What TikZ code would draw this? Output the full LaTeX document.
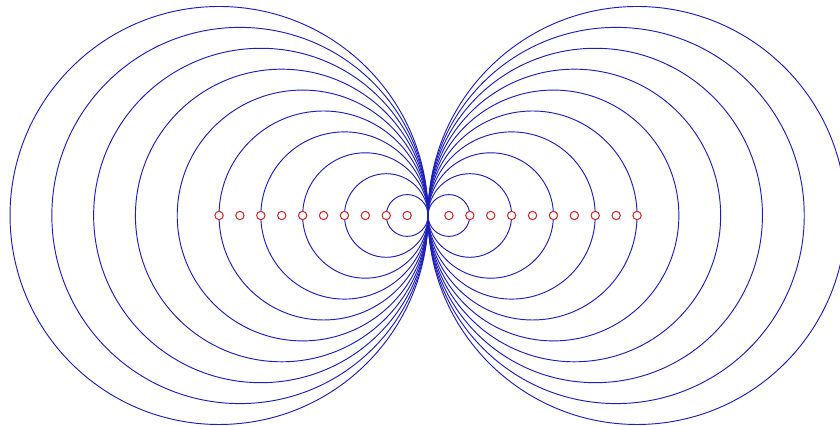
\documentclass[tikz,border=0pt]{standalone}
\usepackage{xcolor}
\usepackage{tikz}
\definecolor{fieldblue}{RGB}{30,30,185}
\definecolor{chargered}{RGB}{205,45,45}

\begin{document}
\begin{tikzpicture}[
  fieldline/.style={draw=fieldblue, line width=0.045cm},
  charge/.style={circle, draw=chargered, fill=white, line width=0.05cm, minimum size=0.4cm, inner sep=0pt}
]
\useasboundingbox (-20.48,-10.07) rectangle (19.71,10.31);
\clip (-20.48,-10.07) rectangle (19.71,10.31);
\coordinate (O) at (0,0);
% field circles, tangent at the origin
\foreach \k in {1,...,10} {
  \draw[fieldline] (-\k,0) circle (\k);
  \draw[fieldline] (\k,0) circle (\k);
}
% centre markers
\foreach \k in {1,...,10} {
  \node[charge] (L\k) at (-\k,0) {};
  \node[charge] (R\k) at (\k,0) {};
}
\end{tikzpicture}
\end{document}
